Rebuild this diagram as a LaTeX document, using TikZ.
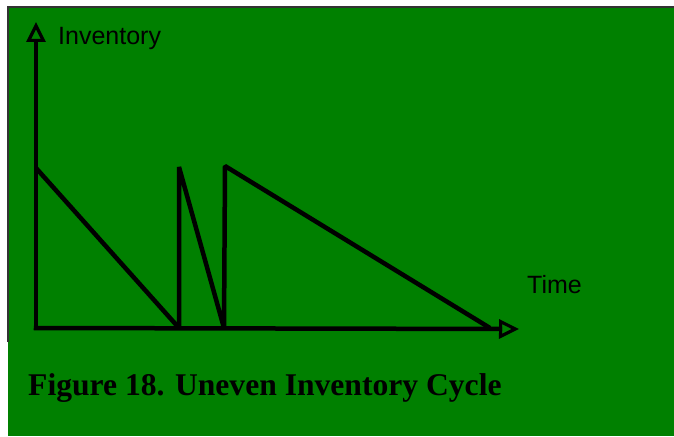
\documentclass[tikz,border=0pt]{standalone}
\usepackage{fontspec}
\setmainfont{Liberation Serif}
\newfontfamily\arialfont{Liberation Sans}
\usetikzlibrary{arrows.meta, positioning}
\definecolor{chartgreen}{RGB}{0,128,0}
\tikzset{
  axis/.style={line width=4.5pt, line cap=rect, -{Triangle[open, length=20pt, width=19pt, line width=3.2pt]}},
  saw/.style={line width=4.5pt, line join=bevel},
  axlabel/.style={font=\arialfont\fontsize{25}{30}\selectfont, inner sep=0pt, anchor=west},
  caption/.style={font=\bfseries\fontsize{31.6}{38}\selectfont, inner sep=0pt, anchor=west}
}
\begin{document}
\begin{tikzpicture}[x=1pt, y=-1pt]

  \useasboundingbox (0,0) rectangle (674,436);
  \fill[white] (0,0) rectangle (674,436);
  \fill[chartgreen] (8,7) rectangle (674,436);
  \draw[black!80, line width=2pt] (8,342) -- (8,7) -- (674,7);

  % axes
  \coordinate (origin) at (36,328);
  \coordinate (ytip)   at (36,22);
  \coordinate (xtip)   at (519,329);
  \draw[axis] (origin) -- (ytip);
  \draw[axis] (origin) -- (xtip);

  % sawtooth
  \coordinate (p0) at (36,168);
  \coordinate (p1) at (179,328);
  \coordinate (p2) at (179,167);
  \coordinate (p3) at (224,328);
  \coordinate (p4) at (225,166);
  \coordinate (p5) at (490,328);
  \draw[saw] (p0) -- (p1) -- (p2) -- (p3) -- (p4) -- (p5);

  \node[axlabel] (inv)  at (58,38)  {Inventory};
  \node[axlabel] (time) at (527,285) {Time};

  \node[caption] (cap) at (28,388) {Figure 18. Uneven Inventory Cycle};

\end{tikzpicture}
\end{document}
